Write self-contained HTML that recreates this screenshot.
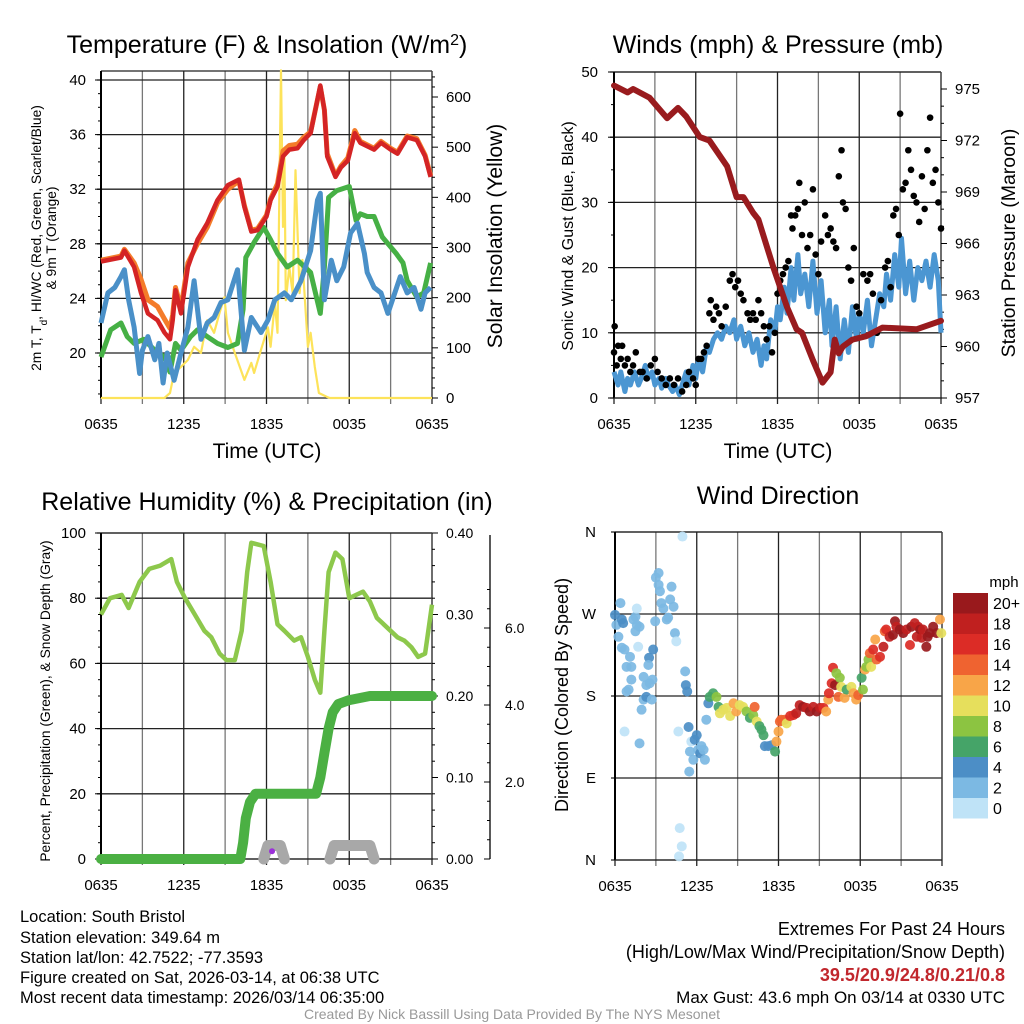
<!DOCTYPE html>
<html><head><meta charset="utf-8"><style>
html,body{margin:0;padding:0;background:#fff;}
svg{display:block;font-family:"Liberation Sans",sans-serif;}
</style></head><body>
<svg id="s" width="1024" height="1024" viewBox="0 0 1024 1024" xmlns="http://www.w3.org/2000/svg">
<text x="267" y="53" font-size="25" text-anchor="middle">Temperature (F) &amp; Insolation (W/m<tspan baseline-shift="super" font-size="16">2</tspan>)</text>
<text x="778" y="53" font-size="25" text-anchor="middle">Winds (mph) &amp; Pressure (mb)</text>
<text x="267" y="510" font-size="25" text-anchor="middle">Relative Humidity (%) &amp; Precipitation (in)</text>
<text x="778" y="504" font-size="25" text-anchor="middle">Wind Direction</text>
<text x="267" y="458" font-size="21" text-anchor="middle">Time (UTC)</text>
<text x="778" y="458" font-size="21" text-anchor="middle">Time (UTC)</text>
<text transform="translate(41,238) rotate(-90)" font-size="13.8" text-anchor="middle">2m T, T<tspan baseline-shift="sub" font-size="10">d</tspan>, HI/WC (Red, Green, Scarlet/Blue)</text>
<text transform="translate(56,238) rotate(-90)" font-size="13.8" text-anchor="middle">&amp; 9m T (Orange)</text>
<text transform="translate(502,236) rotate(-90)" font-size="21" text-anchor="middle">Solar Insolation (Yellow)</text>
<text transform="translate(573,236) rotate(-90)" font-size="16" text-anchor="middle">Sonic Wind &amp; Gust (Blue, Black)</text>
<text transform="translate(1015,243) rotate(-90)" font-size="19.5" text-anchor="middle">Station Pressure (Maroon)</text>
<text transform="translate(50,701) rotate(-90)" font-size="13.8" text-anchor="middle">Percent, Precipitation (Green), &amp; Snow Depth (Gray)</text>
<text transform="translate(568,695) rotate(-90)" font-size="18" text-anchor="middle">Direction (Colored By Speed)</text>
<g font-size="16.5">
<text x="20" y="922">Location: South Bristol</text>
<text x="20" y="943">Station elevation: 349.64 m</text>
<text x="20" y="963">Station lat/lon: 42.7522; -77.3593</text>
<text x="20" y="983">Figure created on Sat, 2026-03-14, at 06:38 UTC</text>
<text x="20" y="1003">Most recent data timestamp: 2026/03/14 06:35:00</text>
</g>
<g font-size="18" text-anchor="end">
<text x="1005" y="935">Extremes For Past 24 Hours</text>
<text x="1005" y="958">(High/Low/Max Wind/Precipitation/Snow Depth)</text>
<text x="1005" y="981" fill="#c1272d" font-weight="bold">39.5/20.9/24.8/0.21/0.8</text>
<text x="1005" y="1003" font-size="17">Max Gust: 43.6 mph On 03/14 at 0330 UTC</text>
</g>
<text x="512" y="1019" font-size="14" fill="#999" text-anchor="middle">Created By Nick Bassill Using Data Provided By The NYS Mesonet</text>
</svg>
<script>
// ---------- DATA ----------
const xTickLabels=["0635","1235","1835","0035","0635"];
const tempH=[0,1.45,1.7,2.4,2.9,3.4,4.1,4.6,5,5.2,5.4,5.8,6.3,7,7.7,8.45,9.2,10,10.4,10.9,11.35,12,12.3,12.8,13.2,13.65,14.25,14.7,15.2,15.9,16.2,16.4,17,17.4,17.9,18.4,18.8,19.8,20.3,21,21.5,22.2,22.9,23.5,23.9];
const tempV=[26.7,27.0,27.5,26.3,24.4,22.9,22.4,21.5,21,22.4,24.6,22.9,26.3,28.3,29.5,31.2,32.3,32.7,30.7,28.9,29,30,31.2,32.2,34.4,34.9,35,35.6,36.1,39.6,37.8,34.4,32.9,33.6,34.1,36.1,35.4,34.9,35.4,34.9,34.6,35.8,35.6,34.4,32.9];
const t9V=[26.8,27.1,27.6,26.6,25.4,23.9,23.4,22.5,21.8,22.8,24.8,23.3,26.6,28.0,29.2,31.0,32.0,32.6,30.8,29.0,29.1,30.1,31.3,32.4,34.8,35.2,35.3,35.8,36.2,39.5,37.8,34.6,33.0,33.7,34.3,36.3,35.5,35.0,35.5,35.0,34.7,35.9,35.7,34.5,33.0];
const hiH=[0,0.5,1,1.45,1.7,2,2.4,2.8,3,3.4,3.9,4.2,4.5,4.8,5.3,5.8,6.3,6.75,7.25,7.7,8.2,8.7,9.2,9.9,10.4,10.9,11.6,12.1,12.6,13.3,13.8,14.5,15.2,15.7,15.9,16.2,16.7,17.1,17.6,18.1,18.6,19.1,19.3,19.8,20.3,20.8,21.3,21.7,22.2,22.7,23.2,23.5,23.9];
const hiV=[22.2,24.4,24.8,25.6,26.1,23.9,21.9,18.5,20.2,21.2,19.5,20.7,17.8,20,18,20,21.9,25.3,21,22.2,22.6,23.7,23.9,26.1,20.2,22.6,21.5,22.4,23.9,24.4,23.9,25.3,27.5,31.2,31.7,23.9,26.8,25.3,26.3,28.8,29.5,27.3,25.9,24.8,24.4,22.9,24.4,25.6,24.4,24.8,23.2,24.4,24.8];
const tdH=[0,0.7,1.45,1.9,2.4,3.1,3.9,4.6,5,5.4,5.8,6.5,7,7.7,8.45,9.2,9.9,10.3,10.5,11.1,11.8,12.3,12.8,13.5,14.25,15.2,15.9,16.2,16.5,17.1,18,18.5,18.8,19.3,19.8,20.4,20.9,21.4,21.9,22.2,22.9,23.4,23.9];
const tdV=[19.7,21.7,22.2,21.2,20.7,21,20.2,19.7,18.6,20.7,20.2,21.2,21.7,21.2,20.7,20.4,20.7,23.2,27,28.1,29.2,28.3,27.3,26.3,26.8,25.9,22.9,26.3,31.4,31.9,32.2,29.7,30.2,30,30,28.5,27.9,27.3,26.6,25.3,24.1,24.4,26.6];
const solH=[0,4.6,5,5.3,5.8,6.3,6.75,7.25,7.7,8.2,8.6,8.95,9.2,9.7,10.4,10.9,11.1,11.6,12.1,12.3,12.6,12.8,13.05,13.2,13.3,13.4,13.65,13.9,14.1,14.4,14.6,15,15.2,15.5,15.8,16.4,16.6,24];
const solV=[0,0,10,50,62,76,102,90,155,130,170,201,130,90,36,70,50,96,141,102,189,130,653,341,488,195,261,209,454,209,275,102,130,62,10,2,0,0];
const sonH=[0,0.3,0.5,0.8,1,1.2,1.5,1.8,2,2.3,2.5,2.8,3,3.3,3.5,3.8,4,4.3,4.5,4.8,5,5.3,5.5,5.8,6,6.2,6.5,6.8,7,7.3,7.6,7.9,8.2,8.5,8.8,9,9.3,9.6,9.9,10.2,10.5,10.8,11,11.2,11.5,11.8,12,12.2,12.5,12.7,13,13.2,13.5,13.7,14,14.3,14.6,14.9,15.2,15.5,15.8,16,16.3,16.6,16.9,17.2,17.5,17.8,18,18.3,18.6,18.9,19.2,19.5,19.8,20,20.3,20.6,20.9,21.1,21.4,21.7,22,22.3,22.6,22.9,23.2,23.5,23.8,24];
const sonV=[4,2,4,1,3,2,4,2,3,5,3,4,2,3,1.5,3,2,1,2,0.5,2,4,2,5,3,6,4,8,7,9,10,9,11,10,12,9,11,8,10,7,9,5,8,6,12,10,14,12,17,13,20,15,22,16,19,14,21,13,18,10,15,8,14,6,12,7,14,9,13,10,15,8,12,16,14,19,15,22,17,24.5,16,21,15,20,18,21,17,22,18,10];
const gustH=[0,0.05,0.2,0.3,0.5,0.6,0.8,1,1.2,1.4,1.6,1.9,2.1,2.4,2.7,3,3.2,3.5,3.8,4.1,4.4,4.7,5,5.3,5.5,5.8,6,6.2,6.4,6.6,6.8,7,7.1,7.3,7.5,7.7,7.9,8.2,8.5,8.7,8.9,9.1,9.3,9.5,9.8,10,10.2,10.4,10.6,10.8,11,11.2,11.4,11.6,11.8,12,12.2,12.4,12.6,12.8,13,13.1,13.3,13.5,13.6,13.8,14,14.2,14.4,14.6,14.8,15,15.2,15.5,15.7,15.9,16.1,16.3,16.5,16.7,16.8,17,17.2,17.4,17.6,17.8,18,18.3,18.6,18.8,19,19.3,19.6,19.9,20.1,20.3,20.5,20.7,20.9,21,21.2,21.4,21.6,21.8,22,22.2,22.4,22.6,22.8,23,23.2,23.4,23.6,23.8,24];
const gustV=[7,11,5,8,6,8,5,6,4,5,7,4,4,3,5,6,4,3,2,3,2,3,1,2,4,3,2,6,6,7,8,13,15,12,14,13,11,14,18,19,17,18,16,15,13,12,13,12,15,13,11,9,11,7,10,16,18,19,20,21,28,26,28,29,33,25,30,23,25,32,22,19,24,28,25,26,24,23,34,38,30,29,20,18,23,14,13,19,18,19,16,10,15,20,21,17,28,29,25,43.6,32,33,38,35,31,30,27,34,29,38,43,33,35,30,26];
const presH=[0,1,1.4,2.6,3.9,4.7,5.3,6.3,7,8.3,9,9.5,10.2,10.6,11.7,12.7,13.4,13.8,14.6,15.3,15.9,16.2,16.5,16.8,17.5,18.5,19.7,22.2,24];
const presV=[975.2,974.8,975,974.5,973.3,973.9,973.4,972.2,972,970.5,968.7,968.7,967.8,967.4,964.6,962.3,961,960.8,959.2,957.9,958.5,960.4,959.6,960,960.4,960.6,961.1,961,961.5];
const pressTicks=[957,960,963,966,969,972,975];
const rhH=[0,0.65,1.5,2,2.8,3.5,4.3,5.1,5.5,6.1,6.8,7.5,8,8.6,9.1,9.7,10.2,10.6,10.9,11.8,12.3,12.8,13.3,14,14.5,15,15.5,15.9,16.2,16.5,17,17.5,18,18.5,19,19.5,20,20.5,21,21.5,22,22.5,23,23.5,24];
const rhV=[75,80,81,77,85,89,90,92,85,80,75,70,68,63,61,61,70,88,97,96,85,72,70,67,68,62,55,51,70,88,94,92,80,81,82,79,74,72,70,68,67,65,62,63,78];
const precH=[0,10.1,10.3,10.5,10.8,11.2,15.6,15.9,16.2,16.5,16.8,17.2,18,19.5,24];
const precV=[0,0,0.02,0.05,0.07,0.08,0.08,0.1,0.13,0.16,0.18,0.19,0.195,0.2,0.2];
const snowH=[11.8,12.1,13,13.3,16.6,16.9,19.5,19.8];
const snowV=[0,0.35,0.35,0,0,0.35,0.35,0];
const dirH=[0,0.1,0.25,0.4,0.5,0.6,0.5,0.7,0.85,0.85,1.0,1.1,1.2,1.2,1.35,1.5,1.6,1.6,1.7,1.8,1.5,1.8,1.95,2.1,2.1,2.3,2.3,2.5,2.45,2.55,2.7,2.75,2.8,2.95,3.0,3.2,3.2,3.3,3.4,3.55,3.8,3.9,4.05,4.15,4.3,4.4,4.5,0.7,4.65,4.95,5.15,5.2,5.3,5.4,5.5,5.6,5.75,5.85,6.0,6.1,6.25,6.35,6.5,6.6,5.45,4.75,4.9,4.7,6.7,6.85,6.95,
7.2,7.45,7.6,7.7,7.95,8.2,8.45,8.7,8.9,9.15,9.4,9.65,9.9,10.15,10.25,10.4,10.6,10.75,10.9,11.0,11.25,11.5,11.75,11.85,12.0,12.1,12.2,12.45,12.6,12.85,13.1,13.3,13.55,13.8,14.05,14.3,14.55,14.8,15.05,15.3,15.5,15.65,15.7,15.9,16.0,16.15,16.25,16.4,16.5,16.6,16.85,17.0,17.35,17.5,17.7,17.85,18.1,18.2,18.35,18.45,18.6,18.7,18.8,18.95,19.1,19.2,19.45,19.7,19.8,19.9,20.15,20.4,20.55,20.65,20.9,21.15,21.4,21.65,21.75,22.0,22.15,22.25,22.4,22.5,22.6,22.85,22.95,23.1,23.35,23.6,23.85,23.95];
const dirD=[269,258,245,282,264,260,233,231,212,185,187,223,212,198,264,267,276,258,234,256,251,128,165,176,201,192,179,222,214,194,176,198,231,262,310,315,302,295,282,276,264,266,286,300,278,249,240,141,141,355,207,192,185,146,119,130,110,132,137,121,117,125,121,110,97,35,15,4,154,172,179,
183,179,168,161,165,167,158,172,163,170,168,163,156,159,168,152,147,143,137,125,125,126,119,130,141,152,154,154,150,158,159,161,170,168,167,163,168,163,167,167,163,176,183,194,211,192,205,179,200,190,178,187,190,183,176,181,200,187,209,212,220,227,212,231,242,220,223,234,251,253,245,247,262,256,253,249,253,236,256,260,245,256,253,244,253,234,245,249,256,249,264,249];
const dirS=[5,3,3,3,5,5,3,3,3,3,3,3,3,3,3,3,1,3,1,3,3,3,3,3,3,3,5,5,3,3,3,3,5,3,3,3,3,3,3,3,3,3,3,3,3,3,1,1,1,1,3,5,5,5,3,1,3,5,5,3,5,3,3,3,3,1,1,1,3,5,7,
7,8,6,10,10,10,10,12,13,10,10,8,7,9,15,10,7,6,6,5,5,5,7,12,12,14,15,14,10,16,17,18,18,20,18,20,18,20,18,16,12,12,16,16,16,20,8,14,8,10,12,6,10,12,12,14,6,8,12,8,8,14,10,16,12,14,16,18,14,16,18,20,20,18,20,20,18,16,20,18,18,18,20,18,18,20,20,20,20,20,12,10];
const speedLabels=["20+","18","16","14","12","10","8","6","4","2","0"];
const speedColors=["#99191c","#c0201f","#dc2c26","#ef6330","#f8a548","#e6df5c","#8cc441","#45a468","#4c8ec6","#7cb9e3","#bfe3f7"];
const dirLabels=["N","E","S","W","N"];

// ---------- HELPERS ----------
const NS="http://www.w3.org/2000/svg", S=document.getElementById('s');
function mk(tag,attrs,parent){const e=document.createElementNS(NS,tag);for(const k in attrs)e.setAttribute(k,attrs[k]);(parent||S).appendChild(e);return e;}
function grp(name){const g=mk('g',{});return g;}
function line(g,x1,y1,x2,y2,c,w){return mk('line',{x1,y1,x2,y2,stroke:c,'stroke-width':w},g);}
function txt(g,x,y,s,size,anchor){const t=mk('text',{x,y,'font-size':size,'text-anchor':anchor||'middle'},g);t.textContent=s;return t;}
function sx(p,h){return p.x0+h/24*(p.x1-p.x0);}
function lin(d0,d1,r0,r1){return v=>r0+(v-d0)/(d1-d0)*(r1-r0);}
function pathOf(p,hs,vs,ys){return hs.map((h,i)=>(i?'L':'M')+sx(p,h).toFixed(1)+','+ys(vs[i]).toFixed(1)).join('');}

function frame(p,name,hlines){
  const g=grp(name+'-grid');
  for(let k=0;k<=8;k++){const x=sx(p,k*3);line(g,x,p.yTop,x,p.yBot+6,k%2?'#777':'#222',1.3);}
  hlines.forEach(y=>line(g,p.x0-4,y,p.x1,y,'#222',1.3));
  line(g,p.x0,p.yTop,p.x1,p.yTop,'#222',1.3);
  line(g,p.x0,p.yTop,p.x0,p.yBot,'#000',2);
  line(g,p.x1,p.yTop,p.x1,p.yBot,'#444',1.3);
  line(g,p.x0,p.yBot,p.x1,p.yBot,'#222',1.3);
  const gl=grp(name+'-x-tick-labels');
  xTickLabels.forEach((l,i)=>txt(gl,sx(p,i*6),p.yBot+31,l,15));
}

// ---------- PANEL 1 ----------
const p1={x0:101,x1:432,yTop:71,yBot:398};
const yT=lin(40,20,80,353), yS=lin(0,600,398,97);
frame(p1,'temp',[20,24,28,32,36,40].map(yT));
{const g=grp('temp-y-axis');for(let v=17;v<=40;v++){line(g,p1.x0-(v%4?3:6),yT(v),p1.x0,yT(v),'#000',1);}
 [20,24,28,32,36,40].forEach(v=>txt(g,86,yT(v)+5,String(v),15,'end'));
 const g2=grp('insolation-y-axis');for(let v=0;v<=640;v+=20){line(g2,p1.x1,yS(v),p1.x1+(v%100?3:6),yS(v),'#000',1);}
 for(let v=0;v<=600;v+=100)txt(g2,446,yS(v)+5,String(v),15,'start');}
{const g=grp('temp-series');
 const a=mk('path',{d:pathOf(p1,solH,solV,yS),fill:'none',stroke:'#fde35a','stroke-width':2.2,'stroke-linejoin':'round'},g);
 const b=mk('path',{d:pathOf(p1,tdH,tdV,yT),fill:'none',stroke:'#46b045','stroke-width':5,'stroke-linejoin':'round'},g);
 const c=mk('path',{d:pathOf(p1,hiH,hiV,yT),fill:'none',stroke:'#4a90c8','stroke-width':5,'stroke-linejoin':'round'},g);
 const d=mk('path',{d:pathOf(p1,tempH,t9V,yT),fill:'none',stroke:'#f47c2a','stroke-width':5,'stroke-linejoin':'round'},g);
 const e=mk('path',{d:pathOf(p1,tempH,tempV,yT),fill:'none',stroke:'#d42425','stroke-width':4.5,'stroke-linejoin':'round'},g);}

// ---------- PANEL 2 ----------
const p2={x0:614,x1:941,yTop:72,yBot:398};
const yW=lin(0,50,398,72), yP=lin(957,975,398,89);
frame(p2,'winds',[0,10,20,30,40,50].map(yW));
{const g=grp('wind-y-axis');for(let v=0;v<=50;v+=5)line(g,p2.x0-(v%10?3:6),yW(v),p2.x0,yW(v),'#000',1);
 for(let v=0;v<=50;v+=10)txt(g,598,yW(v)+5,String(v),15,'end');
 const g2=grp('pressure-y-axis');for(let v=957;v<=975.5;v+=1)line(g2,p2.x1,yP(v),p2.x1+((v-957)%3?3:6),yP(v),'#000',1);
 pressTicks.forEach(v=>txt(g2,955,yP(v)+5,String(v),15,'start'));}
{const g=grp('wind-series');
 const a=mk('path',{d:pathOf(p2,sonH,sonV,yW),fill:'none',stroke:'#4b96d2','stroke-width':5,'stroke-linejoin':'round'},g);
 gustH.forEach((h,i)=>{const c=mk('circle',{cx:sx(p2,h),cy:yW(gustV[i]),r:3.3,fill:'#000'},g);});
 const b=mk('path',{d:pathOf(p2,presH,presV,yP),fill:'none',stroke:'#991b1e','stroke-width':6,'stroke-linejoin':'round','stroke-linecap':'round'},g);}

// ---------- PANEL 3 ----------
const p3={x0:101,x1:432,yTop:533,yBot:859};
const yR=lin(0,100,859,533), yPr=lin(0,0.4,859,533), ySn=lin(0,6,859,628);
frame(p3,'rh',[0,20,40,60,80,100].map(yR));
{const g=grp('rh-y-axis');for(let v=0;v<=100;v+=5)line(g,p3.x0-(v%20?3:6),yR(v),p3.x0,yR(v),'#000',1);
 for(let v=0;v<=100;v+=20)txt(g,86,yR(v)+5,String(v),15,'end');
 const g2=grp('precip-y-axis');for(let v=0;v<=0.41;v+=0.02)line(g2,p3.x1,yPr(v),p3.x1+(Math.round(v*100)%10?3:6),yPr(v),'#000',1);
 [0,0.1,0.2,0.3,0.4].forEach(v=>txt(g2,446,yPr(v)+5,v.toFixed(2),14,'start'));
 const g3=grp('snow-y-axis');line(g3,490,535,490,859,'#000',1.3);
 for(let v=0;v<=7;v+=0.5){const y=ySn(v);if(y>535)line(g3,490,y,490-(v%2?3:6),y,'#000',1);}
 [2,4,6].forEach(v=>txt(g3,505,ySn(v)+5,v.toFixed(1),14,'start'));}
{const g=grp('rh-series');
 const a=mk('path',{d:pathOf(p3,rhH,rhV,yR),fill:'none',stroke:'#8dc84c','stroke-width':4.5,'stroke-linejoin':'round'},g);
 const s=mk('path',{d:pathOf(p3,snowH.slice(0,4),snowV.slice(0,4),ySn)+pathOf(p3,snowH.slice(4),snowV.slice(4),ySn),fill:'none',stroke:'#a8a8a8','stroke-width':11,'stroke-linejoin':'round','stroke-linecap':'round'},g);
 const pu=mk('circle',{cx:sx(p3,12.4),cy:ySn(0.2),r:3,fill:'#9b30d9'},g);
 const b=mk('path',{d:pathOf(p3,precH,precV,yPr),fill:'none',stroke:'#4bb043','stroke-width':10,'stroke-linejoin':'round','stroke-linecap':'round'},g);}

// ---------- PANEL 4 ----------
const p4={x0:615,x1:942,yTop:532,yBot:860};
const yD=lin(0,360,860,532);
frame(p4,'direction',[0,90,180,270,360].map(yD));
{const g=grp('direction-y-axis');dirLabels.forEach((l,i)=>txt(g,596,yD(i*90)+5,l,15,'end'));}
{const g=grp('direction-points');
 dirH.forEach((h,i)=>{const idx=10-Math.min(10,Math.floor(dirS[i]/2));const c=mk('circle',{cx:sx(p4,h),cy:yD(dirD[i]),r:5,fill:speedColors[idx],'fill-opacity':0.92},g);});}
{const g=grp('speed-colorbar');txt(g,1004,587,'mph',15);
 speedColors.forEach((c,i)=>{const r=mk('rect',{x:953,y:593+i*20.5,width:35,height:20.5,fill:c},g);
  txt(g,993,593+i*20.5+16,speedLabels[i],16,'start');});}
</script>
</body></html>
